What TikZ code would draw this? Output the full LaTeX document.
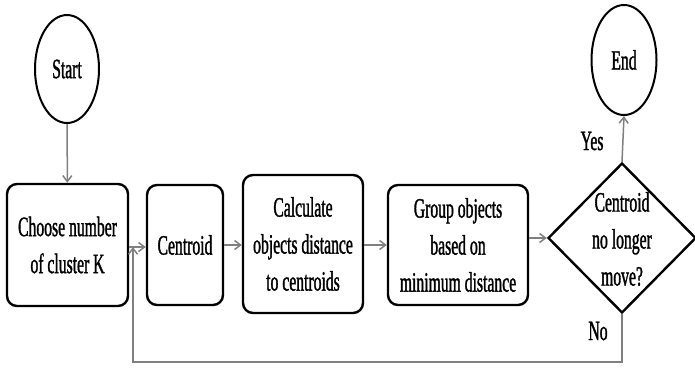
\documentclass[tikz,border=0pt]{standalone}
\usepackage{fontspec}
\setmainfont[FakeStretch=0.56,FakeBold=1.2]{Liberation Serif}
\usetikzlibrary{shapes.geometric,arrows.meta}
\begin{document}
\begin{tikzpicture}[x=1pt,y=-1pt,
  txt/.style={font=\fontsize{28}{37}\selectfont, align=center},
  term/.style={draw, ellipse, line width=2pt, inner sep=0pt, txt},
  proc/.style={draw, rectangle, rounded corners=10pt, line width=2.4pt, inner sep=0pt, txt},
  dec/.style={draw, diamond, line width=2.4pt, inner sep=0pt},
  conn/.style={draw=gray, line width=1.5pt, -{Straight Barb[length=6pt,width=9pt]}},
  lab/.style={txt}]
\useasboundingbox (0,0) rectangle (695,370);
\node[term, minimum width=64pt, minimum height=108pt] (start) at (67,69) {Start};
\node[term, minimum width=65pt, minimum height=110pt] (end) at (624,60) {End};
\node[proc, minimum width=121pt, minimum height=122pt] (choose) at (67.5,245) {Choose number\\of cluster K};
\node[proc, minimum width=76pt, minimum height=120pt] (centroid) at (185,245) {Centroid};
\node[proc, minimum width=120pt, minimum height=138pt] (calc) at (303,244) {Calculate\\objects distance\\to centroids};
\node[proc, minimum width=140pt, minimum height=120pt] (group) at (458,245) {Group objects\\based on\\minimum distance};
\node[dec, minimum width=148pt, minimum height=150pt,
  label={[txt, yshift=-1pt]center:Centroid\\no longer\\move?}] (decision) at (622,238) {};
\coordinate (fb) at (133,247);
\coordinate (low) at (133,362);
\draw[conn] (start) -- (choose);
\draw[conn] (choose.east |- fb) -- (centroid.west |- fb);
\draw[conn] (centroid) -- (calc.west |- centroid);
\draw[conn] (calc.east |- centroid) -- (group.west |- centroid);
\draw[conn] (group.east |- decision.west) -- (decision.west);
\draw[conn] (decision.north) -- (end.south);
\draw[conn] (decision.south) |- (low) -- (fb);
\node[lab] (yes) at (592,141) {Yes};
\node[lab] (no) at (598,331) {No};
\end{tikzpicture}
\end{document}
